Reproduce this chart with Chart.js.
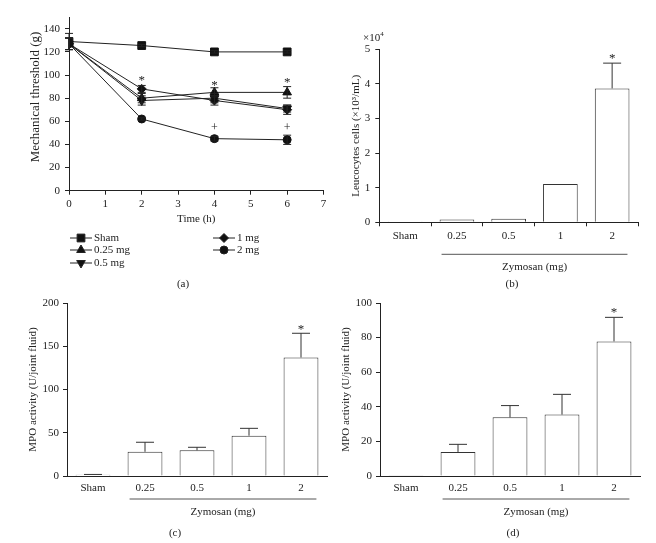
<!DOCTYPE html>
<html>
<head>
<meta charset="utf-8">
<script src="https://cdn.jsdelivr.net/npm/chart.js@4.4.0/dist/chart.umd.min.js"></script>
<style>
  body { margin: 0; background: #fff; width: 656px; height: 543px; position: relative; overflow: hidden; }
  canvas { position: absolute; }
</style>
</head>
<body>
<canvas id="cA" width="330" height="290" style="left:0;top:0"></canvas>
<canvas id="cB" width="326" height="290" style="left:330px;top:0"></canvas>
<canvas id="cC" width="330" height="253" style="left:0;top:290px"></canvas>
<canvas id="cD" width="326" height="253" style="left:330px;top:290px"></canvas>
<script>
// (a) mechanical threshold over time
var times = [0, 2, 4, 6];
var groupNames = ['Sham', '0.25 mg', '0.5 mg', '1 mg', '2 mg'];
var sham = [129, 125.5, 120, 120];
var mg025 = [127, 80, 85, 85];
var mg05 = [127, 78, 80, 71];
var mg1 = [127, 88, 78, 70];
var mg2 = [127, 62, 45, 44];
var shamErr = [7, 1, 1, 1];
var mg025Err = [5, 4, 4, 5];
var mg05Err = [5, 4, 4, 3];
var mg1Err = [5, 3, 4, 4];
var mg2Err = [5, 1, 2, 4];
var starTimes = [2, 4, 6];
var starValues = [97, 93, 95];
var plusTimes = [4, 6];
var plusValues = [54, 54];

// (b)-(d) bars
var doses = ['Sham', '0.25', '0.5', '1', '2'];
var leuco = [0.01, 0.08, 0.1, 1.11, 3.87];
var leucoErr = [0, 0, 0, 0, 0.73];
var mpoC = [1.5, 28, 29.7, 46.6, 137];
var mpoCErr = [0.3, 11, 3.5, 8.5, 28];
var mpoD = [0.2, 13.9, 33.9, 35.5, 77.8];
var mpoDErr = [0, 4.4, 6.8, 11.7, 13.9];
var starB = 4.8, starC = 172, starD = 95.5;

Chart.defaults.font.family = 'Liberation Serif';
Chart.defaults.font.size = 11;
Chart.defaults.color = '#222';
Chart.defaults.animation = false;

var INK = '#222';

function fixW(w) {
  return function (s) { s.width = w; s.paddingTop = 0; s.paddingBottom = 0; s.paddingLeft = 0; s.paddingRight = 0; };
}
function fixH(h) {
  return function (s) { s.height = h; s.paddingTop = 0; s.paddingBottom = 0; s.paddingLeft = 0; s.paddingRight = 0; };
}
function pts(vals) {
  return times.map(function (t, i) { return { x: t, y: vals[i] }; });
}

var styles = [
  { pointStyle: 'rect', radius: 5.5, rotation: 0 },
  { pointStyle: 'triangle', radius: 5, rotation: 0 },
  { pointStyle: 'triangle', radius: 5, rotation: 180 },
  { pointStyle: 'rectRot', radius: 4.5, rotation: 0 },
  { pointStyle: 'circle', radius: 4, rotation: 0 }
];
var series = [sham, mg025, mg05, mg1, mg2];
var seriesErr = [shamErr, mg025Err, mg05Err, mg1Err, mg2Err];

function text(ctx, str, x, y, size, align, rot) {
  ctx.save();
  ctx.fillStyle = INK;
  ctx.font = (size || 11) + 'px "Liberation Serif"';
  ctx.textAlign = align || 'center';
  ctx.textBaseline = 'middle';
  ctx.translate(x, y);
  if (rot) ctx.rotate(rot);
  ctx.fillText(str, 0, 0);
  ctx.restore();
}

// panel (a)
new Chart(document.getElementById('cA'), {
  type: 'line',
  data: {
    datasets: series.map(function (s, i) {
      return {
        label: groupNames[i],
        data: pts(s),
        borderColor: INK,
        borderWidth: 1,
        backgroundColor: '#111',
        pointBackgroundColor: '#111',
        pointBorderColor: '#111',
        pointStyle: styles[i].pointStyle,
        pointRadius: styles[i].radius,
        pointRotation: styles[i].rotation,
        tension: 0
      };
    })
  },
  options: {
    responsive: false,
    layout: { padding: { top: 17.2, right: 1, bottom: 64.3, left: 0 } },
    plugins: { legend: { display: false }, tooltip: { enabled: false } },
    scales: {
      x: {
        type: 'linear', min: 0, max: 7,
        ticks: { stepSize: 1, padding: 3 },
        grid: { drawOnChartArea: false, tickLength: 4, color: INK },
        border: { color: INK },
        title: { display: true, text: 'Time (h)', padding: 0 },
        afterFit: fixH(35)
      },
      y: {
        min: 0, max: 150,
        ticks: { stepSize: 20, padding: 5, includeBounds: false },
        grid: { drawOnChartArea: false, tickLength: 4, color: INK },
        border: { color: INK },
        afterFit: fixW(69)
      }
    }
  },
  plugins: [{
    id: 'extrasA',
    afterDatasetsDraw: function (chart) {
      var ctx = chart.ctx, y = chart.scales.y, x = chart.scales.x;
      ctx.save();
      ctx.strokeStyle = INK;
      ctx.lineWidth = 1;
      series.forEach(function (s, i) {
        var meta = chart.getDatasetMeta(i);
        meta.data.forEach(function (p, j) {
          var e = seriesErr[i][j];
          var y1 = y.getPixelForValue(s[j] + e), y2 = y.getPixelForValue(s[j] - e);
          ctx.beginPath();
          ctx.moveTo(p.x, y1); ctx.lineTo(p.x, y2);
          ctx.moveTo(p.x - 4, y1); ctx.lineTo(p.x + 4, y1);
          ctx.moveTo(p.x - 4, y2); ctx.lineTo(p.x + 4, y2);
          ctx.stroke();
        });
      });
      ctx.restore();
      starTimes.forEach(function (t, i) {
        text(ctx, '*', x.getPixelForValue(t), y.getPixelForValue(starValues[i]) + 2, 13);
      });
      plusTimes.forEach(function (t, i) {
        text(ctx, '+', x.getPixelForValue(t), y.getPixelForValue(plusValues[i]), 12);
      });
    },
    afterDraw: function (chart) {
      var ctx = chart.ctx;
      text(ctx, 'Mechanical threshold (g)', 35.5, 97, 13, 'center', -Math.PI / 2);
      var pos = [[70, 238], [70, 250], [70, 263], [213, 238], [213, 250]];
      pos.forEach(function (p, i) {
        ctx.save();
        ctx.strokeStyle = INK;
        ctx.lineWidth = 1;
        ctx.beginPath();
        ctx.moveTo(p[0], p[1]); ctx.lineTo(p[0] + 22, p[1]);
        ctx.stroke();
        ctx.fillStyle = '#111';
        Chart.helpers.drawPoint(ctx, { pointStyle: styles[i].pointStyle, radius: styles[i].radius, rotation: styles[i].rotation, borderWidth: 1 }, p[0] + 11, p[1]);
        ctx.restore();
        text(ctx, groupNames[i], p[0] + 24, p[1], 11, 'left');
      });
      text(ctx, '(a)', 183, 284, 11);
    }
  }]
});

function barChart(id, values, errs, cfg) {
  return new Chart(document.getElementById(id), {
    type: 'bar',
    data: {
      labels: doses,
      datasets: [{
        data: values,
        backgroundColor: '#fff',
        borderColor: '#333',
        borderWidth: 1,
        barPercentage: 0.67,
        categoryPercentage: 1
      }]
    },
    options: {
      responsive: false,
      layout: { padding: cfg.padding },
      plugins: { legend: { display: false }, tooltip: { enabled: false } },
      scales: {
        x: {
          ticks: { padding: cfg.xPad },
          grid: { display: cfg.xTicks, drawOnChartArea: false, tickLength: 4, color: INK },
          border: { color: INK },
          afterFit: fixH(20)
        },
        y: {
          min: 0, max: cfg.max,
          ticks: { stepSize: cfg.step, padding: cfg.yPad },
          grid: { drawOnChartArea: false, tickLength: 4, color: INK },
          border: { color: INK },
          title: { display: true, text: cfg.yTitle, padding: { top: cfg.titlePad } },
          afterFit: fixW(cfg.yWidth)
        }
      }
    },
    plugins: [{
      id: 'extras' + id,
      afterDatasetsDraw: function (chart) {
        var ctx = chart.ctx, y = chart.scales.y;
        var bars = chart.getDatasetMeta(0).data;
        ctx.save();
        ctx.strokeStyle = '#333';
        ctx.lineWidth = 1;
        bars.forEach(function (b, i) {
          if (!errs[i]) return;
          var yt = y.getPixelForValue(values[i] + errs[i]);
          ctx.beginPath();
          ctx.moveTo(b.x, b.y); ctx.lineTo(b.x, yt);
          ctx.moveTo(b.x - 9, yt); ctx.lineTo(b.x + 9, yt);
          ctx.stroke();
        });
        var last = bars[bars.length - 1];
        text(ctx, '*', last.x, y.getPixelForValue(cfg.star) + 2, 13);
        var x1 = bars[1].x - bars[1].width / 2 + 2, x2 = last.x + last.width / 2 - 2;
        var ly = chart.chartArea.bottom + cfg.lineDy;
        ctx.strokeStyle = '#555';
        ctx.beginPath();
        ctx.moveTo(x1, ly); ctx.lineTo(x2, ly);
        ctx.stroke();
        ctx.restore();
        text(ctx, 'Zymosan (mg)', (x1 + x2) / 2, ly + 13, 11);
        text(ctx, cfg.panel, cfg.panelX, ly + cfg.panelDy, 11);
        if (cfg.exp) {
          ctx.save();
          ctx.fillStyle = INK;
          ctx.textAlign = 'left';
          ctx.textBaseline = 'alphabetic';
          ctx.font = '11px "Liberation Serif"';
          ctx.fillText('\u00d710', 33, 41);
          var w = ctx.measureText('\u00d710').width;
          ctx.font = '7px "Liberation Serif"';
          ctx.fillText('4', 33 + w, 36);
          ctx.restore();
        }
      }
    }]
  });
}

barChart('cB', leuco, leucoErr, {
  padding: { top: 49.3, right: 18, bottom: 47.7, left: 0 },
  max: 5, step: 1, yWidth: 49.3, yPad: 5, xPad: 3.4, xTicks: true,
  yTitle: 'Leucocytes cells (\u00d710\u00b3/mL)', titlePad: 19.4,
  star: starB, lineDy: 32, panel: '(b)', panelX: 182, panelDy: 30, exp: true
});
barChart('cC', mpoC, mpoCErr, {
  padding: { top: 13, right: 3, bottom: 47, left: 0 },
  max: 200, step: 50, yWidth: 67, yPad: 4, xPad: 1.5, xTicks: false,
  yTitle: 'MPO activity (U/joint fluid)', titlePad: 26.4,
  star: starC, lineDy: 23, panel: '(c)', panelX: 175, panelDy: 34
});
barChart('cD', mpoD, mpoDErr, {
  padding: { top: 13, right: 16, bottom: 47, left: 0 },
  max: 100, step: 20, yWidth: 50, yPad: 4, xPad: 1.5, xTicks: false,
  yTitle: 'MPO activity (U/joint fluid)', titlePad: 9.4,
  star: starD, lineDy: 23, panel: '(d)', panelX: 183, panelDy: 34
});
</script>
</body>
</html>
